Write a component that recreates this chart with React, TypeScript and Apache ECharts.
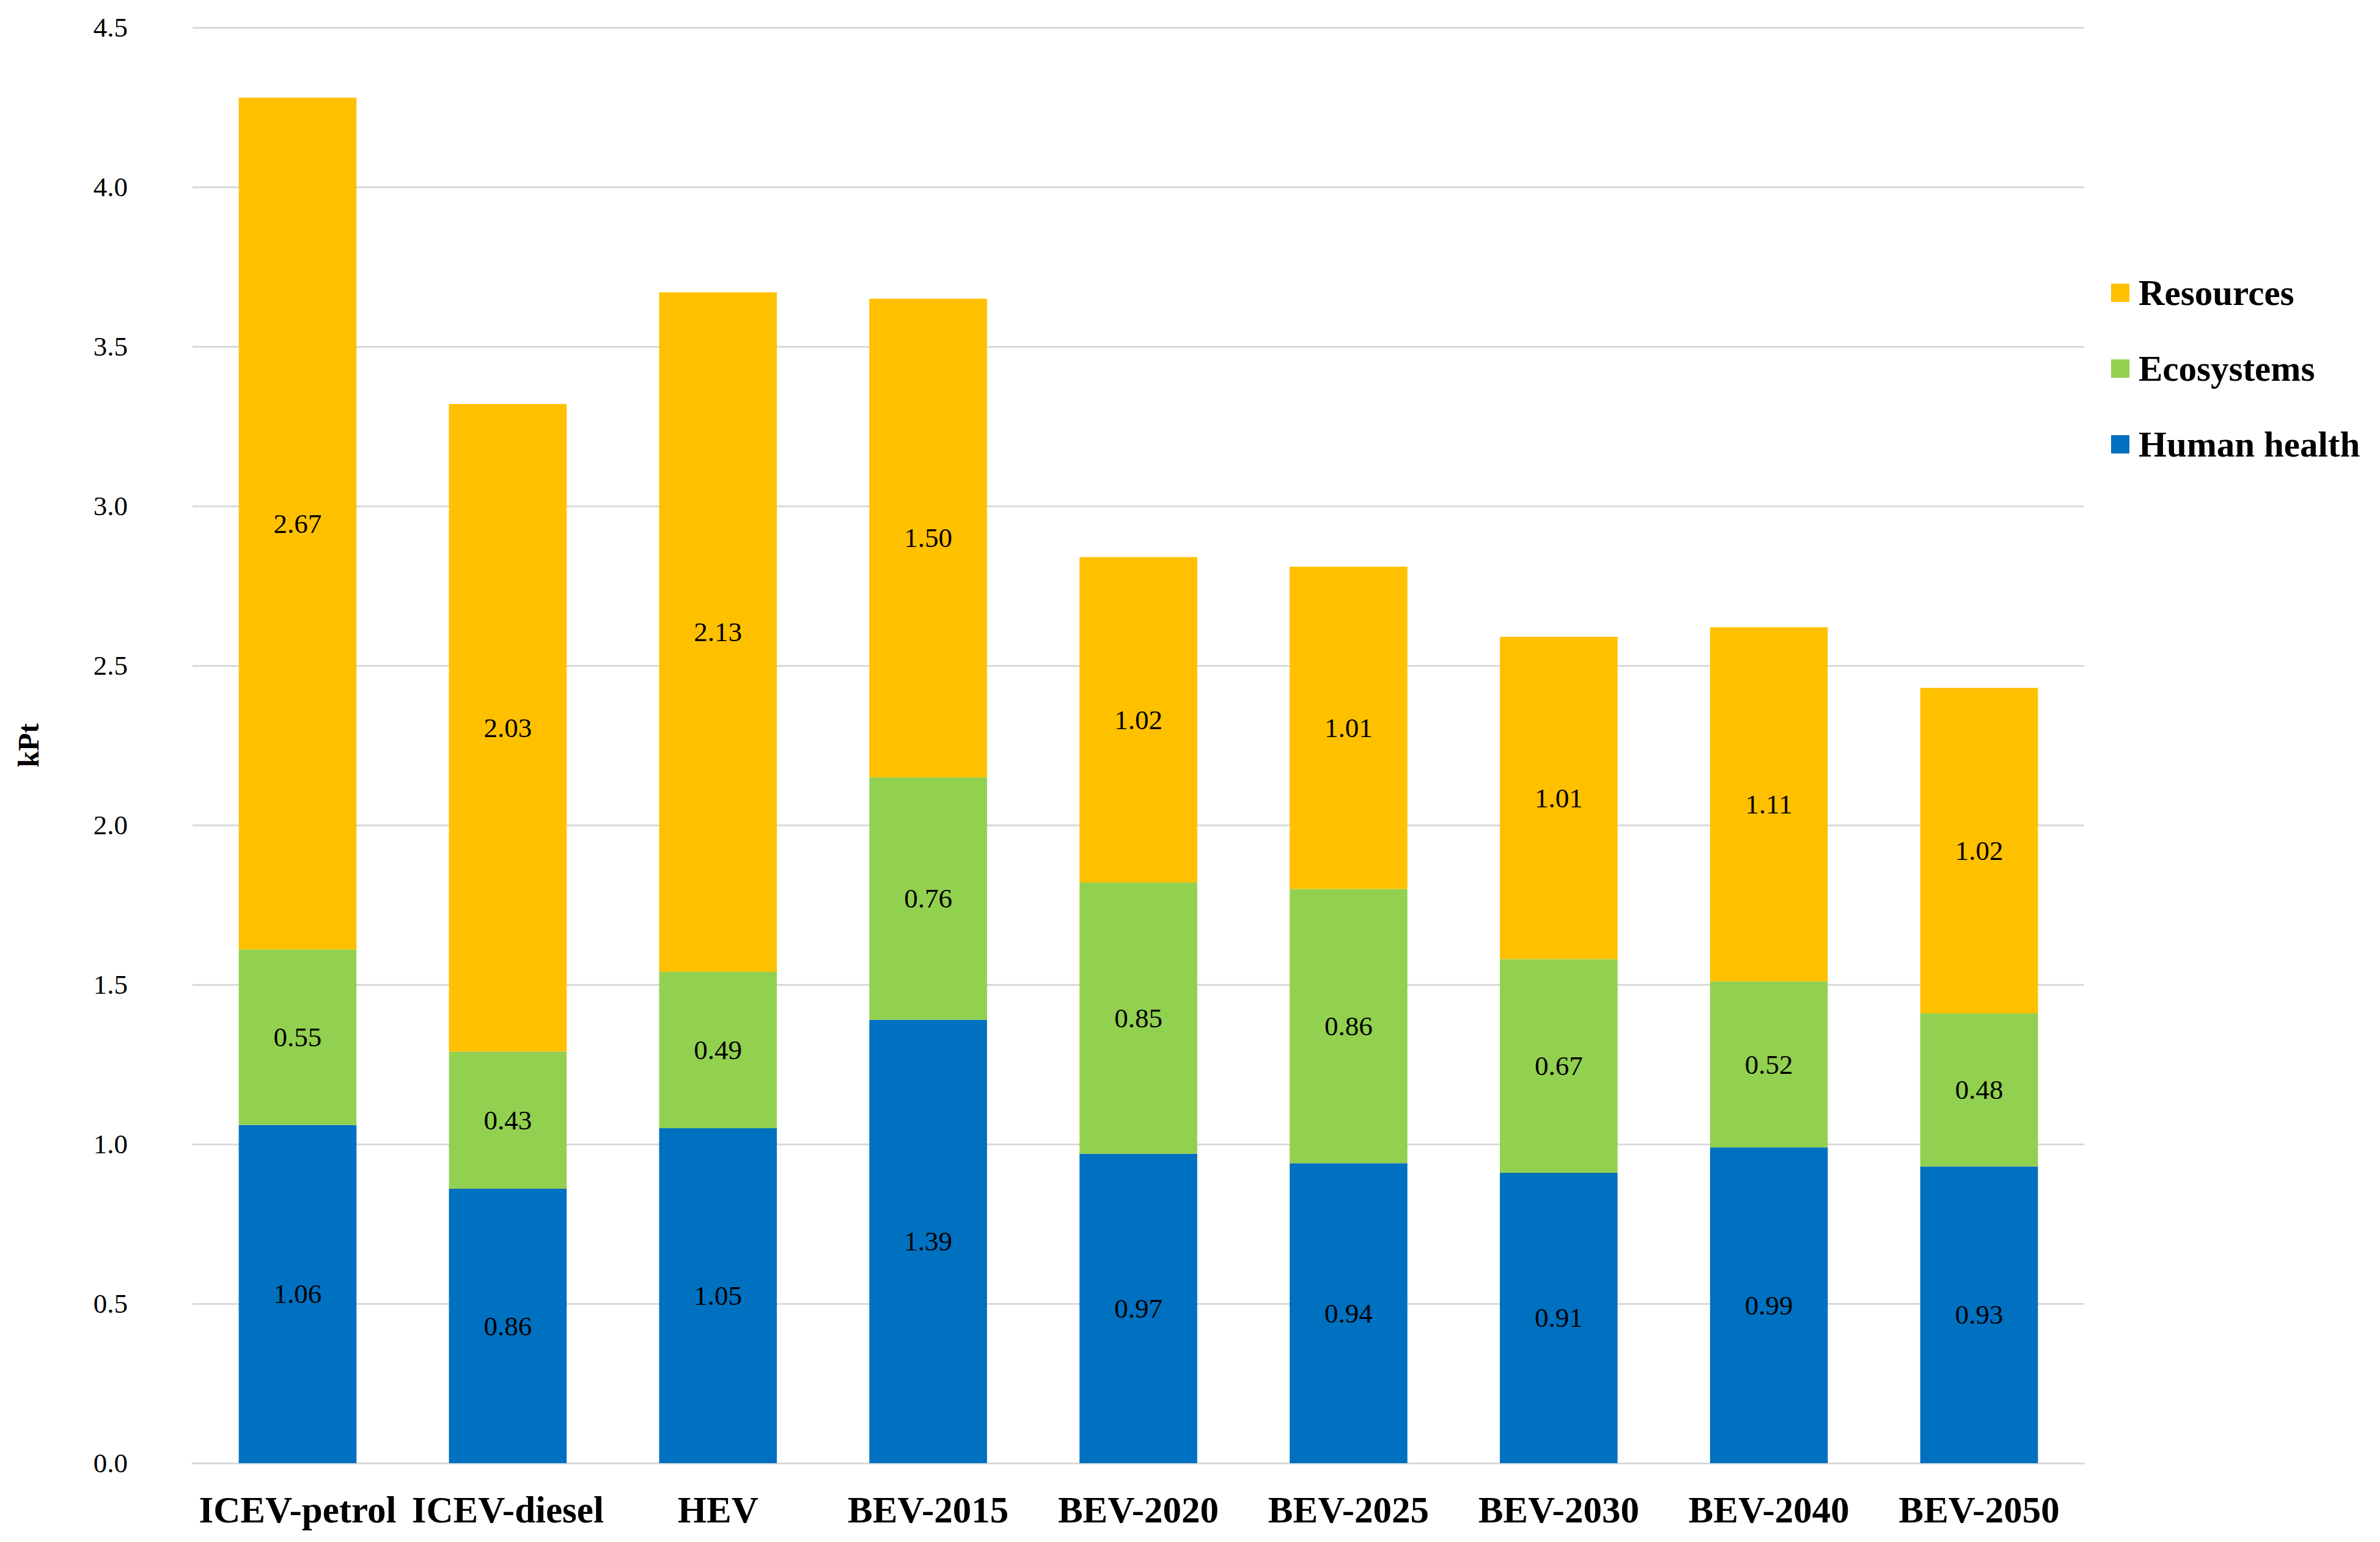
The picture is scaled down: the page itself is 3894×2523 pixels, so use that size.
import React, { useEffect, useRef } from "react";
import * as echarts from "echarts";

const categories = ["ICEV-petrol", "ICEV-diesel", "HEV", "BEV-2015", "BEV-2020", "BEV-2025", "BEV-2030", "BEV-2040", "BEV-2050"];
const humanHealth = [1.06, 0.86, 1.05, 1.39, 0.97, 0.94, 0.91, 0.99, 0.93];
const ecosystems = [0.55, 0.43, 0.49, 0.76, 0.85, 0.86, 0.67, 0.52, 0.48];
const resources = [2.67, 2.03, 2.13, 1.5, 1.02, 1.01, 1.01, 1.11, 1.02];
const seriesNames = ["Human health", "Ecosystems", "Resources"];
const seriesColors = ["#0070C0", "#92D050", "#FFC000"];
const legendOrder = ["Resources", "Ecosystems", "Human health"];

const FONT = "'Liberation Serif', 'Times New Roman', serif";

export default function App() {
  const ref = useRef<HTMLDivElement>(null);
  useEffect(() => {
    if (!ref.current) return;
    const chart = echarts.init(ref.current, null, { renderer: "svg" });
    const values = [humanHealth, ecosystems, resources];
    chart.setOption({
      animation: false,
      backgroundColor: "#ffffff",
      textStyle: { fontFamily: FONT },
      grid: { left: 315, right: 484, top: 45, bottom: 129, containLabel: false },
      legend: {
        data: legendOrder,
        orient: "vertical",
        left: 3449,
        top: 444,
        itemWidth: 30,
        itemHeight: 30,
        itemGap: 64,
        icon: "rect",
        textStyle: {
          fontFamily: FONT,
          fontWeight: "bold",
          fontSize: 59,
          color: "#000",
          lineHeight: 60,
          padding: [0, 0, 0, 10],
        },
      },
      xAxis: {
        type: "category",
        data: categories,
        axisLine: { show: true, lineStyle: { color: "#D9D9D9", width: 3 } },
        axisTick: { show: false },
        axisLabel: {
          interval: 0,
          margin: 46,
          fontFamily: FONT,
          fontWeight: "bold",
          fontSize: 61,
          color: "#000",
        },
      },
      yAxis: {
        type: "value",
        min: 0,
        max: 4.5,
        interval: 0.5,
        name: "kPt",
        nameLocation: "middle",
        nameGap: 245,
        nameRotate: 90,
        nameTextStyle: { fontFamily: FONT, fontWeight: "bold", fontSize: 48, color: "#000" },
        axisLine: { show: false },
        axisTick: { show: false },
        splitLine: { lineStyle: { color: "#D9D9D9", width: 3 } },
        axisLabel: {
          margin: 106,
          fontFamily: FONT,
          fontSize: 45,
          color: "#000",
          formatter: (v: number) => v.toFixed(1),
        },
      },
      series: seriesNames.map((name, i) => ({
        name,
        type: "bar",
        stack: "total",
        barWidth: "56%",
        itemStyle: { color: seriesColors[i] },
        label: {
          show: true,
          position: "inside",
          fontFamily: FONT,
          fontSize: 45,
          color: "#000",
          formatter: (p: any) => Number(p.value).toFixed(2),
        },
        data: values[i],
      })),
    });
    return () => chart.dispose();
  }, []);
  return (
    <div
      ref={ref}
      style={{ position: "fixed", left: 0, top: 0, width: 3894, height: 2523 }}
    />
  );
}
